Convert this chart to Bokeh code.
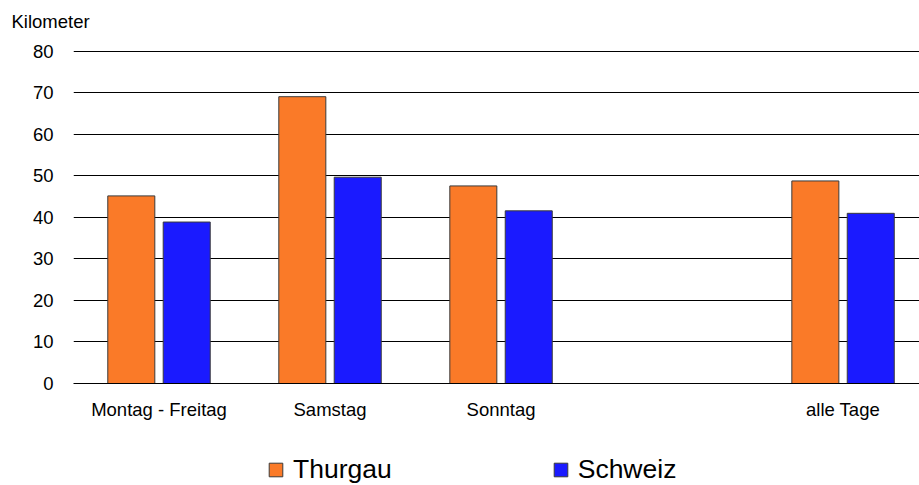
from bokeh.plotting import figure
from bokeh.models import Range1d, FixedTicker, ColumnDataSource, Legend, LegendItem
from bokeh.layouts import column
from bokeh.transform import dodge
from bokeh.embed import file_html
from bokeh.resources import INLINE

categories = ["Montag - Freitag", "Samstag", "Sonntag", "alle Tage"]
slots = [0, 1, 2, 4]  # slot 3 is an empty category on the axis
thurgau = [45.2, 69.1, 47.6, 48.8]
schweiz = [38.9, 49.7, 41.6, 41.0]
y_ticks = [0, 10, 20, 30, 40, 50, 60, 70, 80]
series_names = ["Thurgau", "Schweiz"]
colors = ["#FA7A28", "#1A1AFF"]

FONT = "Liberation Sans"
OUTLINE = "#3a3a3a"

src = ColumnDataSource(dict(x=slots, cat=categories, thurgau=thurgau, schweiz=schweiz))

p = figure(width=919, height=440, output_backend="svg", toolbar_location=None,
           x_range=Range1d(-0.5, 4.447), y_range=Range1d(0, 82.88),
           min_border_left=73, min_border_right=0, min_border_top=38, min_border_bottom=57,
           title="Kilometer")
p.outline_line_color = None
p.background_fill_color = "white"
p.border_fill_color = "white"

p.title.text_font = FONT
p.title.text_font_size = "18.5px"
p.title.text_font_style = "normal"
p.title.text_color = "black"
p.title.align = "left"
p.title.offset = -62
p.title.standoff = 16

r1 = p.vbar(x=dodge("x", -0.162, range=p.x_range), top="thurgau", width=0.275, source=src,
            fill_color=colors[0], line_color=OUTLINE, line_width=1)
r2 = p.vbar(x=dodge("x", 0.162, range=p.x_range), top="schweiz", width=0.275, source=src,
            fill_color=colors[1], line_color=OUTLINE, line_width=1)

p.yaxis.ticker = FixedTicker(ticks=y_ticks)
p.yaxis.axis_line_color = None
p.yaxis.major_tick_line_color = None
p.yaxis.minor_tick_line_color = None
p.yaxis.major_tick_out = 0
p.yaxis.major_label_standoff = 20
p.yaxis.major_label_text_font = FONT
p.yaxis.major_label_text_font_size = "18.5px"
p.yaxis.major_label_text_color = "black"

p.xaxis.ticker = FixedTicker(ticks=slots)
p.xaxis.major_label_overrides = {s: c for s, c in zip(slots, categories)}
p.xaxis.axis_line_color = "black"
p.xaxis.major_tick_line_color = None
p.xaxis.minor_tick_line_color = None
p.xaxis.major_tick_out = 0
p.xaxis.major_label_standoff = 15
p.xaxis.major_label_text_font = FONT
p.xaxis.major_label_text_font_size = "18.5px"
p.xaxis.major_label_text_color = "black"

p.xgrid.visible = False
p.ygrid.ticker = FixedTicker(ticks=y_ticks)
p.ygrid.grid_line_color = "black"
p.ygrid.grid_line_width = 1

# legend strip below the chart (its bars lie fully outside its view; only the legend shows)
pl = figure(width=919, height=45, output_backend="svg", toolbar_location=None,
            x_range=Range1d(1000, 1001), y_range=Range1d(1000, 1001),
            x_axis_type=None, y_axis_type=None,
            x_axis_location=None, y_axis_location=None,
            min_border_left=73, min_border_right=0, min_border_top=0, min_border_bottom=0)
pl.outline_line_color = None
pl.grid.visible = False
pl.grid.grid_line_color = None
l1 = pl.vbar(x="x", top="thurgau", width=0.275, source=src, fill_color=colors[0], line_color=OUTLINE)
l2 = pl.vbar(x="x", top="schweiz", width=0.275, source=src, fill_color=colors[1], line_color=OUTLINE)

legend = Legend(items=[LegendItem(label=series_names[0], renderers=[l1]),
                       LegendItem(label=series_names[1], renderers=[l2])],
                orientation="horizontal", spacing=160, glyph_width=17, glyph_height=17,
                label_standoff=9, label_text_font=FONT, label_text_font_size="26.5px",
                label_text_color="black",
                padding=0, margin=0, border_line_color=None, background_fill_alpha=0,
                location=(194, 0))
pl.add_layout(legend, "center")

layout = column(p, pl, spacing=0)
open("out.html", "w").write(file_html(layout, INLINE))
